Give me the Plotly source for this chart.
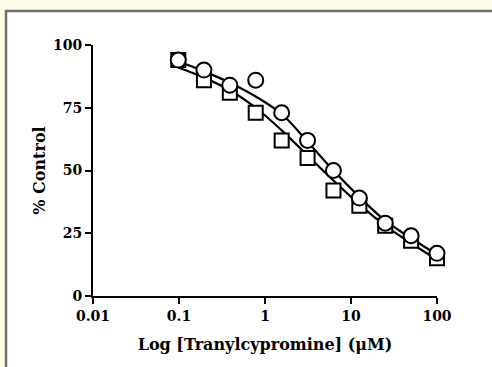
import plotly.graph_objects as go

# Tranylcypromine concentrations (µM), two-fold dilution series
conc = [0.098, 0.195, 0.39, 0.78, 1.5625, 3.125, 6.25, 12.5, 25, 50, 100]

# % of control, two data sets
circle_vals = [94, 90, 84, 86, 73, 62, 50, 39, 29, 24, 17]
square_vals = [94, 86, 81, 73, 62, 55, 42, 36, 28, 22, 15]

# fitted dose-response curves, sampled at the same concentrations
circle_fit = [93.5, 89.5, 85, 79.5, 72.5, 61.5, 50, 39.5, 30, 23, 16.5]
square_fit = [91, 87, 82, 75, 66, 56, 46, 36.5, 28, 21, 14.5]

x_ticks = [0.01, 0.1, 1, 10, 100]
x_tick_text = ["0.01", "0.1", "1", "10", "100"]
y_ticks = [0, 25, 50, 75, 100]

FONT = "DejaVu Serif"

fig = go.Figure()

for fit in (square_fit, circle_fit):
    fig.add_trace(go.Scatter(
        x=conc, y=fit, mode="lines", line_shape="spline",
        line=dict(color="black", width=2.2), hoverinfo="skip", showlegend=False,
    ))

fig.add_trace(go.Scatter(
    x=conc, y=square_vals, mode="markers", showlegend=False,
    marker=dict(symbol="square", size=14, color="white",
                line=dict(color="black", width=2)),
))
fig.add_trace(go.Scatter(
    x=conc, y=circle_vals, mode="markers", showlegend=False,
    marker=dict(symbol="circle", size=15, color="white",
                line=dict(color="black", width=2)),
))

# white panel with grey frame over the pale page colour
fig.add_shape(type="rect", xref="paper", yref="paper",
              x0=-0.2529, y0=-0.40, x1=1.25, y1=1.1355,
              fillcolor="white", line=dict(color="#6e6e6e", width=2.5),
              layer="below")

axis_common = dict(
    showgrid=False, zeroline=False, showline=True, linecolor="black",
    linewidth=2, ticks="outside", ticklen=6, tickwidth=2, tickcolor="black",
    tickfont=dict(family=FONT, size=14, color="black", weight="bold"),
)

fig.update_xaxes(type="log", range=[-2, 2], tickvals=x_ticks,
                 ticktext=x_tick_text,
                 title=dict(text="Log [Tranylcypromine] (μM)",
                            font=dict(family=FONT, size=16, color="black",
                                      weight="bold"), standoff=16),
                 **axis_common)
fig.update_yaxes(range=[0, 100], tickvals=y_ticks,
                 title=dict(text="% Control",
                            font=dict(family=FONT, size=16, color="black",
                                      weight="bold"), standoff=3),
                 **axis_common)

fig.update_traces(cliponaxis=False)

fig.update_layout(
    width=492, height=367,
    margin=dict(l=93, r=55, t=45, b=71),
    paper_bgcolor="#fffbe9", plot_bgcolor="white",
    showlegend=False,
)

fig.write_html("out.html")
